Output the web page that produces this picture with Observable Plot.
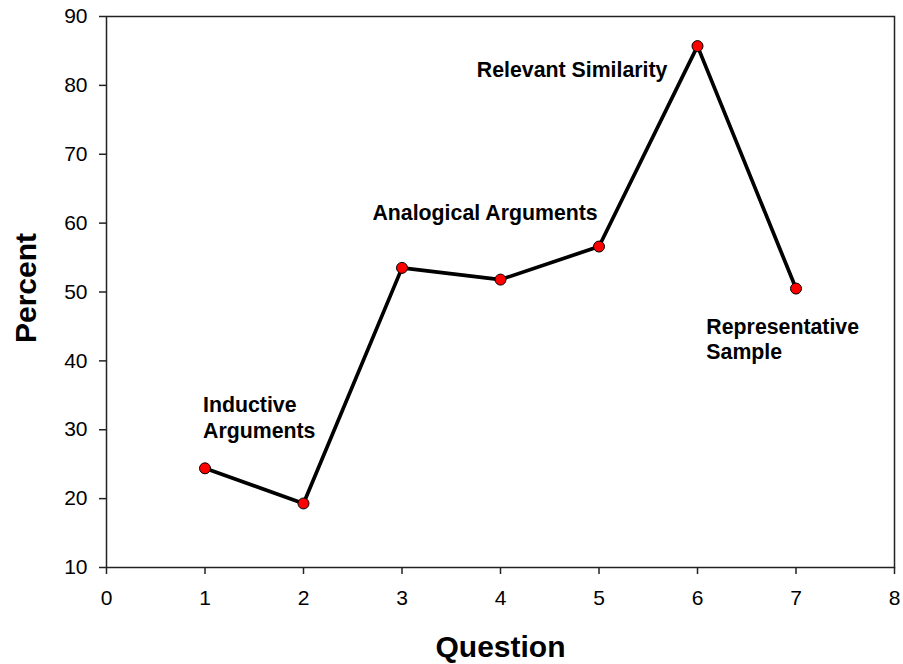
<!DOCTYPE html>
<html>
<head>
<meta charset="utf-8">
<script src="https://cdn.jsdelivr.net/npm/d3@7"></script>
<script src="https://cdn.jsdelivr.net/npm/@observablehq/plot@0.6"></script>
<style>
  html, body { margin: 0; padding: 0; background: #fff; }
  #chart svg { display: block; }
</style>
</head>
<body>
<div id="chart"></div>
<script>
const questions = [1, 2, 3, 4, 5, 6, 7];
const percents = [24.4, 19.3, 53.5, 51.8, 56.6, 85.7, 50.5];

const labelTexts = ["Inductive\nArguments", "Analogical Arguments", "Relevant Similarity", "Representative\nSample"];
const labelX = [0.98, 2.7, 3.76, 6.09];
const labelY = [31.9, 61.7, 82.4, 43.3];

const xTicks = [0, 1, 2, 3, 4, 5, 6, 7, 8];
const yTicks = [10, 20, 30, 40, 50, 60, 70, 80, 90];

const data = questions.map((q, i) => ({q, p: percents[i]}));
const labels = labelTexts.map((t, i) => ({t, x: labelX[i], y: labelY[i]}));

const font = "'Liberation Sans', Arial, Helvetica, sans-serif";

const chart = Plot.plot({
  width: 903,
  height: 664,
  marginLeft: 106,
  marginRight: 9,
  marginTop: 16,
  marginBottom: 97,
  style: {fontFamily: font, background: "#fff", color: "#000"},
  x: {domain: [0, 8]},
  y: {domain: [10, 90]},
  marks: [
    Plot.frame({stroke: "#222", strokeWidth: 1.5}),
    Plot.axisX({ticks: xTicks, tickSize: 7, tickPadding: 16, fontSize: 21, label: null, stroke: "#222", strokeWidth: 1.5}),
    Plot.axisY({ticks: yTicks, tickSize: 7, tickPadding: 12, fontSize: 21, label: null, stroke: "#222", strokeWidth: 1.5}),
    Plot.line(data, {x: "q", y: "p", stroke: "#000", strokeWidth: 3.7}),
    Plot.dot(data, {x: "q", y: "p", r: 5.5, fill: "#ff0000", stroke: "#000", strokeWidth: 1}),
    Plot.text(labels, {x: "x", y: "y", text: "t", textAnchor: "start", lineAnchor: "middle", lineHeight: 1.2, fontSize: 21.3, fontWeight: "bold", fill: "#000"}),
    Plot.text(["Question"], {frameAnchor: "bottom", dy: 80, text: d => d, fontSize: 30, fontWeight: "bold", textAnchor: "middle", lineAnchor: "middle", fill: "#000"}),
    Plot.text(["Percent"], {frameAnchor: "left", dx: -80, dy: -4, rotate: -90, text: d => d, fontSize: 30, fontWeight: "bold", textAnchor: "middle", lineAnchor: "middle", fill: "#000"})
  ]
});
document.getElementById("chart").appendChild(chart);
</script>
</body>
</html>
